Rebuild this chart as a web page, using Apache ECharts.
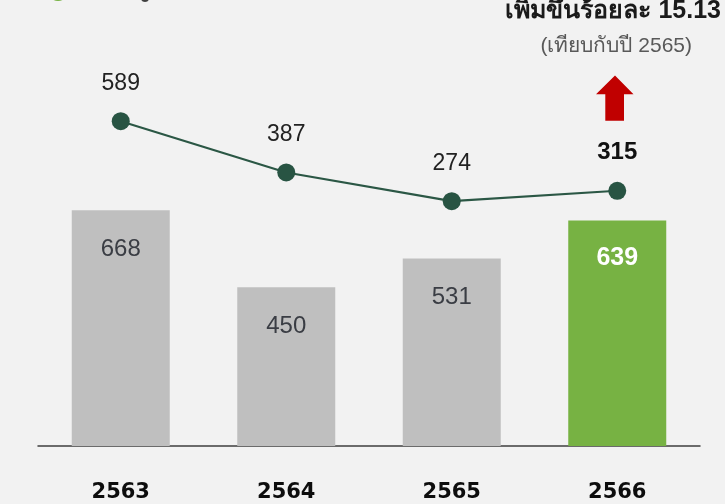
<!DOCTYPE html>
<html>
<head>
<meta charset="utf-8">
<script src="https://cdn.jsdelivr.net/npm/echarts@6/dist/echarts.min.js"></script>
<style>
  html, body { margin: 0; padding: 0; background: #f2f2f2; }
  #chart { width: 725px; height: 504px; }
</style>
</head>
<body>
<div id="chart"></div>
<script>
// Years (Buddhist era)
const years = ['2563', '2564', '2565', '2566'];
// Bar series values
const barValues = [668, 450, 531, 639];
// Line series values
const lineValues = [589, 387, 274, 315];
// Headline texts
const headline = 'เพิ่มขึ้นร้อยละ 15.13';
const subline = '(เทียบกับปี 2565)';

const lastIdx = years.length - 1;
const numFont = '"Liberation Sans", Arial, Helvetica, sans-serif';

const barData = barValues.map((v, i) => {
  const last = i === lastIdx;
  return {
    value: v,
    itemStyle: { color: last ? '#77b243' : '#bfbfbf' },
    label: last
      ? { color: '#ffffff', fontWeight: 'bold', fontSize: 25, distance: 25 }
      : { color: '#3a3d44', fontWeight: 'normal', fontSize: 24, distance: 27 }
  };
});

const lineData = lineValues.map((v, i) => {
  const last = i === lastIdx;
  return {
    value: v,
    label: last
      ? { color: '#111111', fontWeight: 'bold', fontSize: 24 }
      : { color: '#222222', fontWeight: 'normal', fontSize: 23 }
  };
});

const chart = echarts.init(document.getElementById('chart'), null, { renderer: 'canvas' });

chart.setOption({
  backgroundColor: '#f2f2f2',
  animation: false,
  grid: { left: 38, right: 25, top: 93, bottom: 58, containLabel: false },
  xAxis: {
    type: 'category',
    data: years,
    axisLine: { show: true, lineStyle: { color: '#3f3f3f', width: 1.5 } },
    axisTick: { show: false },
    axisLabel: {
      margin: 36,
      color: '#0d0d0d',
      fontWeight: 'bold',
      fontSize: 21,
      fontFamily: '"DejaVu Sans", Verdana, sans-serif'
    }
  },
  yAxis: [
    { type: 'value', min: 0, max: 1000, show: false, splitLine: { show: false } },
    { type: 'value', min: -690, max: 700, show: false, splitLine: { show: false } }
  ],
  series: [
    {
      type: 'bar',
      data: barData,
      barWidth: 98,
      yAxisIndex: 0,
      label: {
        show: true,
        position: 'insideTop',
        fontFamily: numFont
      }
    },
    {
      type: 'line',
      data: lineData,
      yAxisIndex: 1,
      symbol: 'circle',
      symbolSize: 18,
      itemStyle: { color: '#285443' },
      lineStyle: { color: '#2b5745', width: 2.2 },
      label: {
        show: true,
        position: 'top',
        distance: 17,
        fontFamily: numFont
      },
      z: 5
    }
  ],
  graphic: [
    // Decorative marks at the top-left edge
    { type: 'circle', shape: { cx: 58, cy: -9, r: 10 }, style: { fill: '#77b243' } },
    { type: 'circle', shape: { cx: 145, cy: -2, r: 4 }, style: { fill: '#404040' } },
    {
      type: 'text',
      style: {
        x: 721, y: 11,
        text: headline,
        textAlign: 'right',
        textVerticalAlign: 'middle',
        fontSize: 25,
        fontWeight: 'bold',
        fill: '#1a1a1a',
        fontFamily: 'sans-serif'
      }
    },
    {
      type: 'text',
      style: {
        x: 692, y: 46,
        text: subline,
        textAlign: 'right',
        textVerticalAlign: 'middle',
        fontSize: 21,
        fill: '#595959',
        fontFamily: 'sans-serif'
      }
    },
    // Upward arrow
    {
      type: 'polygon',
      shape: {
        points: [[615, 75.5], [633.5, 94.3], [624, 94.3], [624, 120.7],
                 [605.3, 120.7], [605.3, 94.3], [596, 94.3]]
      },
      style: { fill: '#c00000' }
    }
  ]
});
</script>
</body>
</html>
